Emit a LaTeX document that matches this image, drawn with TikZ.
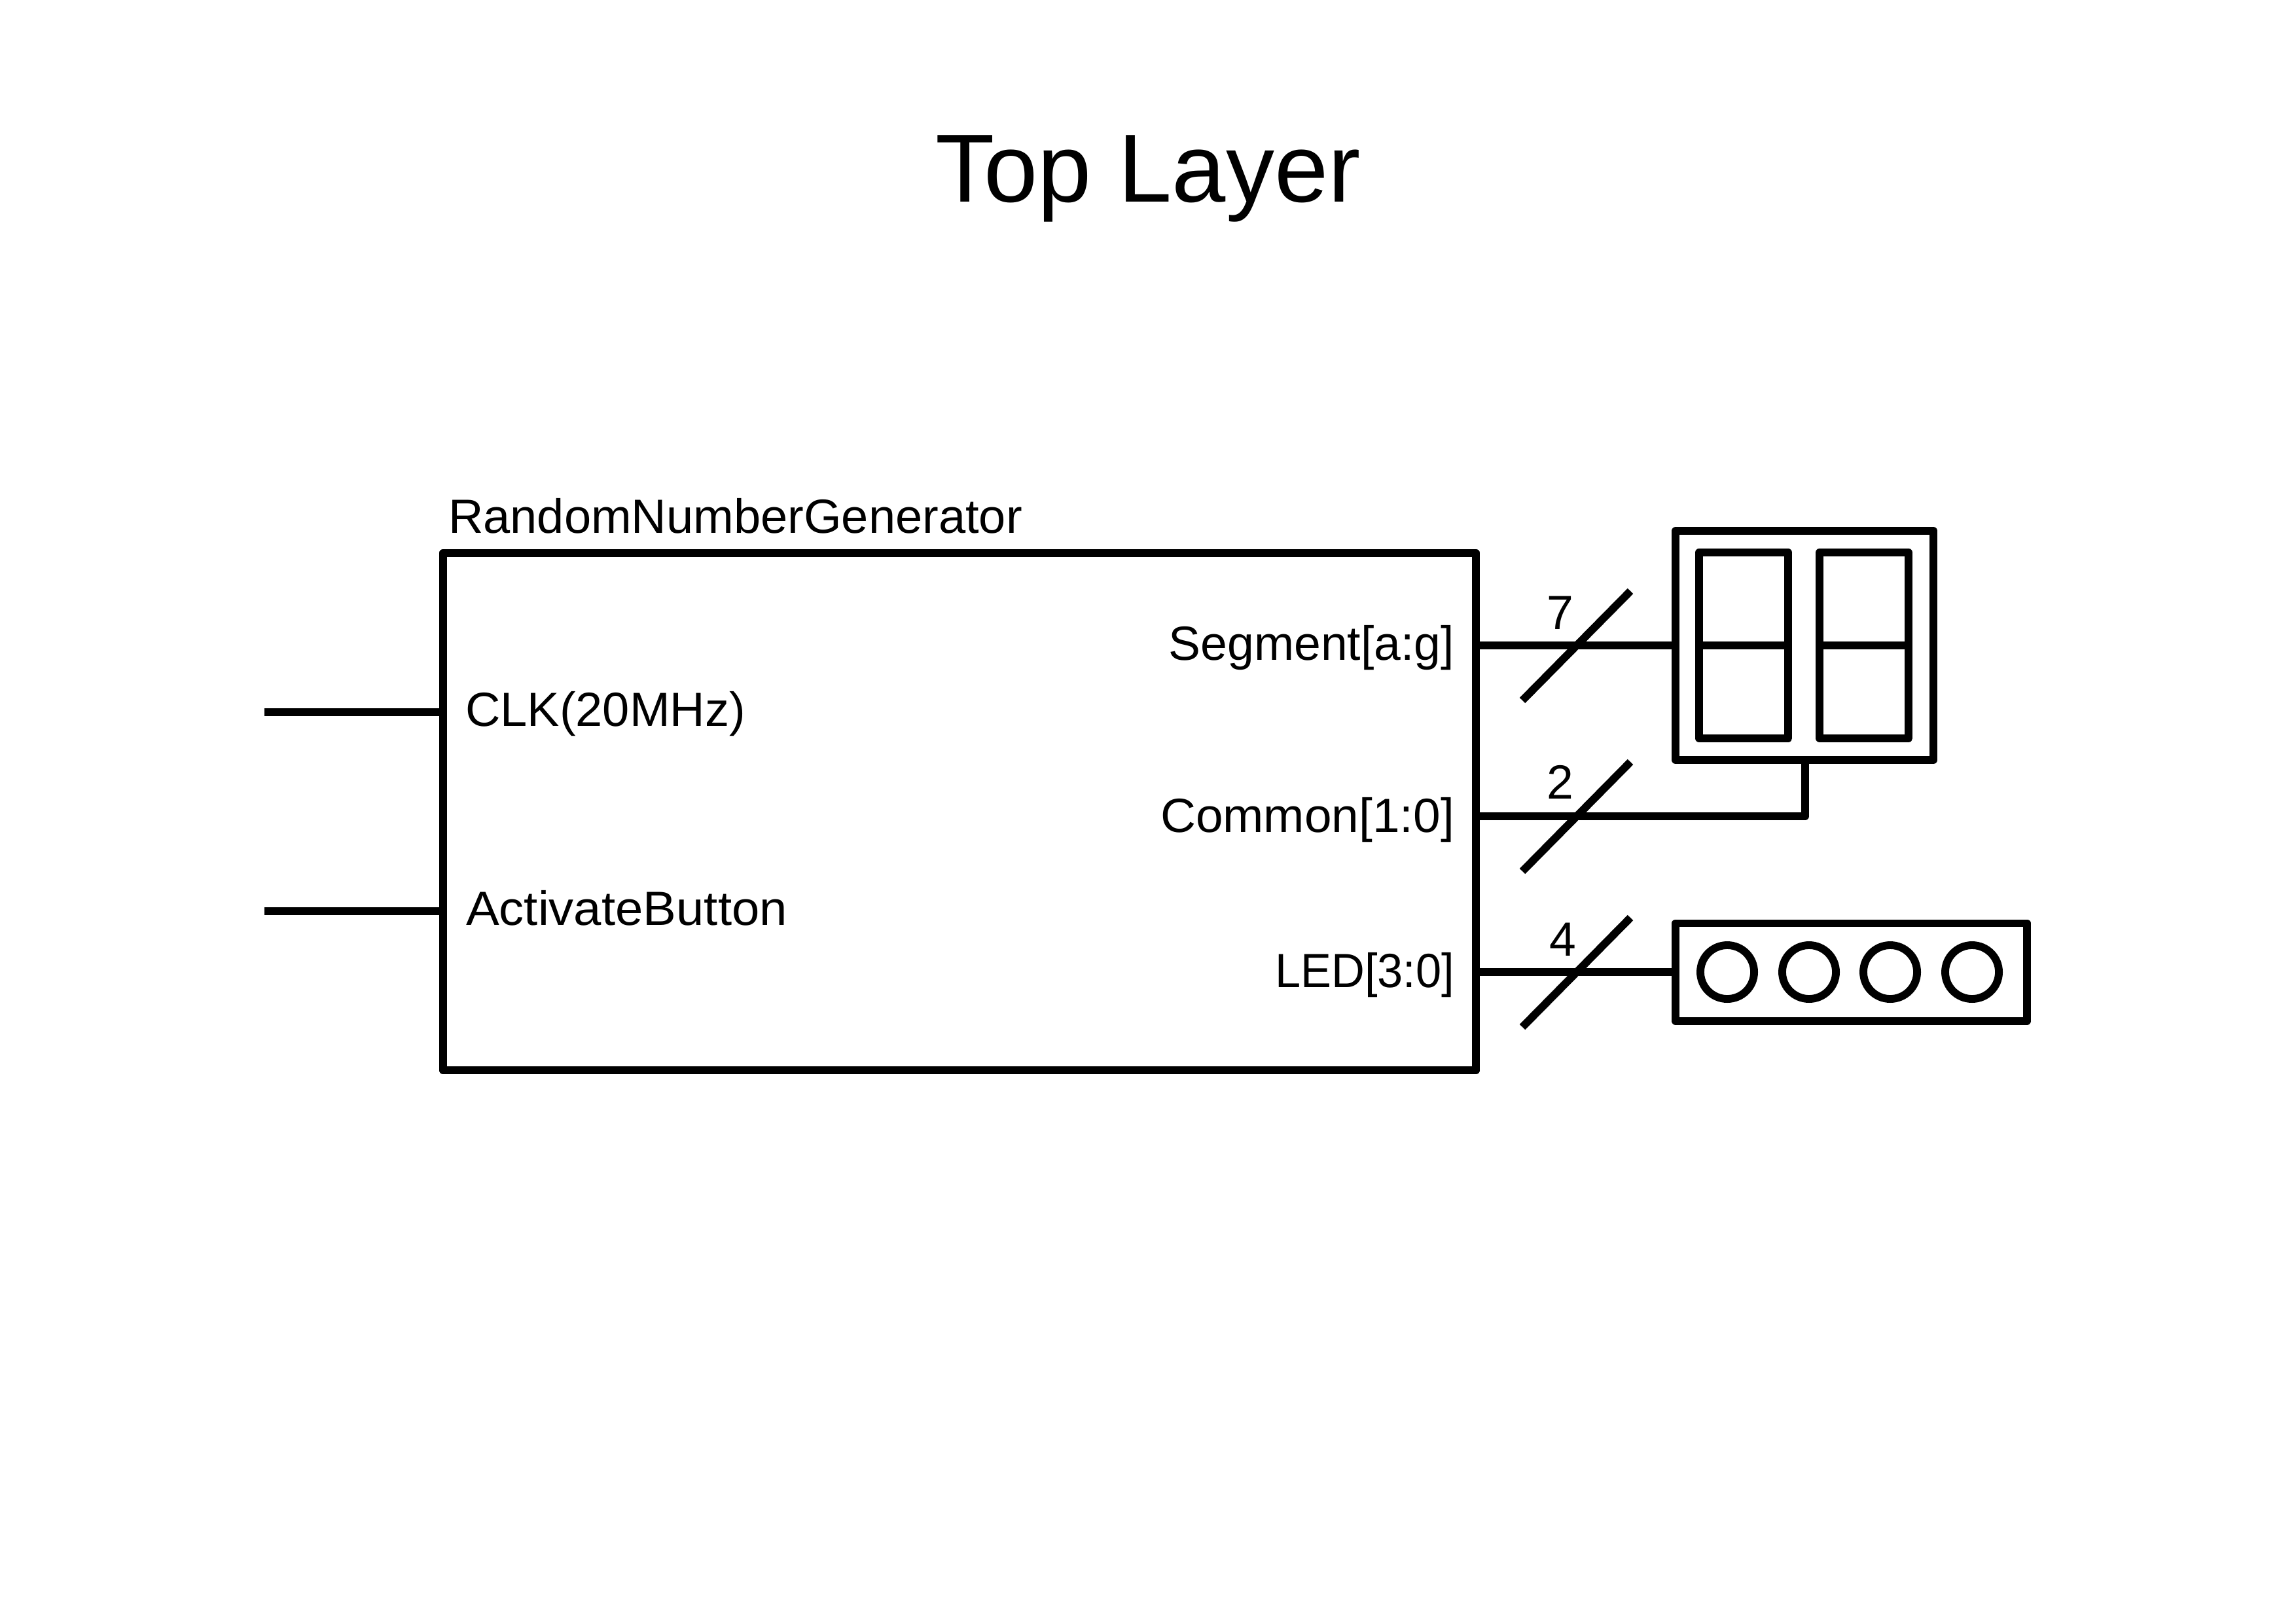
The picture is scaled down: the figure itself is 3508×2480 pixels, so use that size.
\documentclass[tikz,border=0pt]{standalone}
\usepackage{fontspec}
\setmainfont{Liberation Sans}
\usetikzlibrary{calc}
\tikzset{
  x=0.24pt,y=-0.24pt,
  wire/.style={line width=2.85pt,line join=round},
  box/.style={draw,line width=2.85pt,line join=round,inner sep=0pt,outer sep=0pt,rectangle},
  lamp/.style={draw,line width=2.85pt,circle,inner sep=0pt,outer sep=0pt,minimum size=19.7pt},
  lbl/.style={inner sep=0pt,outer sep=0pt,font=\fontsize{17.6pt}{20pt}\selectfont},
  titlelbl/.style={inner sep=0pt,outer sep=0pt,font=\fontsize{35.5pt}{40pt}\selectfont}
}
\begin{document}
\begin{tikzpicture}
\useasboundingbox (0,0) rectangle (3508,2480);
\fill[white] (0,0) rectangle (3508,2480);
\node[titlelbl,anchor=base] (title) at (1754,308) {Top Layer};
\node[box,minimum width=378.7pt,minimum height=189.8pt] (rng) at (1466,1240) {};
\node[box,minimum width=94.6pt,minimum height=84pt] (disp) at (2757,986) {};
\node[box,minimum width=32.8pt,minimum height=68pt] (d1) at (2664,986) {};
\node[box,minimum width=32.8pt,minimum height=68pt] (d2) at (2848,986) {};
\node[box,minimum width=128.9pt,minimum height=35.8pt] (leds) at (2828.5,1485) {};
\node[lamp] (l1) at (2639,1485) {};
\node[lamp] (l2) at (2764,1485) {};
\node[lamp] (l3) at (2888,1485) {};
\node[lamp] (l4) at (3013,1485) {};
\draw[wire] (d1.west) -- (d1.east);
\draw[wire] (d2.west) -- (d2.east);
\coordinate (clkin) at (404,1088);
\coordinate (btnin) at (404,1392);
\draw[wire] (clkin) -- (rng.west |- clkin);
\draw[wire] (btnin) -- (rng.west |- btnin);
\draw[wire] (rng.east |- disp.west) -- (disp.west);
\coordinate (comy) at (2758,1247);
\draw[wire] (rng.east |- comy) -- (comy) -- (comy |- disp.south);
\draw[wire] (rng.east |- leds.west) -- (leds.west);
\coordinate (s1a) at (2326,1070); \coordinate (s1b) at (2491,903);
\coordinate (s2a) at (2326,1331); \coordinate (s2b) at (2491,1164);
\coordinate (s3a) at (2326,1569); \coordinate (s3b) at (2491,1402);
\draw[wire] (s1a) -- (s1b);
\draw[wire] (s2a) -- (s2b);
\draw[wire] (s3a) -- (s3b);
\node[lbl,anchor=base west] (name) at (685,814) {\scalebox{1.01}[1]{RandomNumberGenerator}};
\node[lbl,anchor=base west] (clk) at (711,1109) {\scalebox{1.01}[1]{CLK(20MHz)}};
\node[lbl,anchor=base west] (btn) at (712,1413) {\scalebox{1.038}[1]{ActivateButton}};
\node[lbl,anchor=base east] (seg) at (2222,1008) {Segment[a:g]};
\node[lbl,anchor=base east] (com) at (2222,1271) {\scalebox{1.02}[1]{Common[1:0]}};
\node[lbl,anchor=base east] (led) at (2222,1508) {\scalebox{0.96}[1]{LED[3:0]}};
\node[lbl,anchor=base] (n7) at (2384,961) {7};
\node[lbl,anchor=base] (n2) at (2384,1220) {2};
\node[lbl,anchor=base] (n4) at (2388,1460) {4};
\end{tikzpicture}
\end{document}
